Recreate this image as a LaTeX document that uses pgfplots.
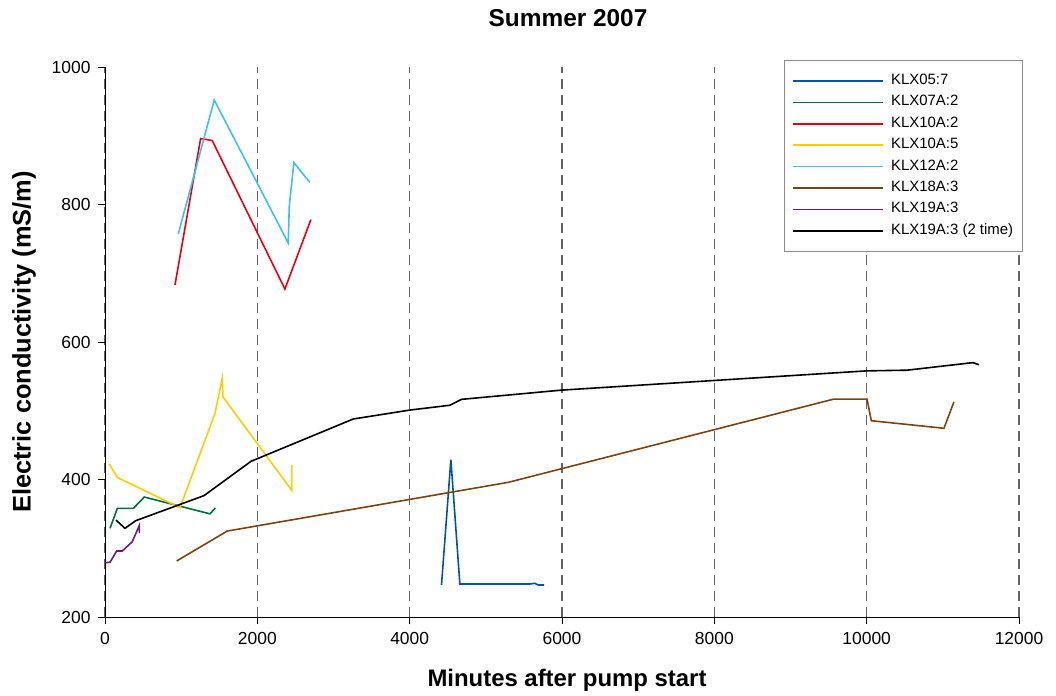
\documentclass[border=0pt]{standalone}
\usepackage{pgfplots}
\pgfplotsset{compat=1.18}
\usepackage{fontspec}
\setmainfont{Liberation Sans}
\definecolor{cBlue}{RGB}{0,84,166}
\definecolor{cGreen}{RGB}{0,110,60}
\definecolor{cRed}{RGB}{230,0,18}
\definecolor{cYellow}{RGB}{255,204,0}
\definecolor{cCyan}{RGB}{60,192,240}
\definecolor{cBrown}{RGB}{122,68,16}
\definecolor{cPurple}{RGB}{106,30,110}
\begin{document}
\begin{tikzpicture}
\begin{axis}[
  scale only axis, width=914bp, height=550bp,
  xmin=0, xmax=12000, ymin=200, ymax=1000,
  axis lines=left, axis line style={-, line width=0.9bp, black},
  xtick={0,2000,...,12000}, ytick={200,400,...,1000},
  scaled x ticks=false, scaled y ticks=false,
  minor tick num=0,
  tick align=outside, major tick length=7bp, tick style={black, line width=0.9bp},
  xmajorgrids, major grid style={dash pattern=on 10bp off 6bp, line width=1.5bp, black!62},
  ticklabel style={font=\fontsize{17.5}{21}\selectfont},
  xticklabel style={yshift=-5bp},
  yticklabel style={xshift=-4bp},
  /pgf/number format/assume math mode=true, /pgf/number format/1000 sep={},
  title={Summer 2007},
  title style={at={(axis description cs:0.5066,1.088)}, anchor=center, yshift=-5.5bp, font=\bfseries\fontsize{24.5}{28}\selectfont},
  xlabel={Minutes after pump start},
  xlabel style={at={(axis description cs:0.5055,-0.1155)}, anchor=center, font=\bfseries\fontsize{24}{28}\selectfont},
  ylabel={Electric conductivity (mS/m)},
  ylabel style={at={(axis description cs:-0.0886,0.5)}, anchor=center, font=\bfseries\fontsize{25.5}{29}\selectfont},
  legend cell align=left,
  legend image code/.code={\draw[#1] (0bp,0bp) -- (90bp,0bp);},
  legend style={at={(axis description cs:0.743,1.0127)}, anchor=north west,
    draw=black!45, line width=0.8bp, fill=white,
    font=\fontsize{15}{18}\selectfont,
    inner xsep=8bp, inner ysep=12bp, row sep=4.4bp, column sep=6bp,
    nodes={inner sep=1bp, text height=11bp, text depth=4bp}},
  every axis plot/.append style={line width=1.6bp, mark=none},
]
\coordinate (o) at (rel axis cs:0,0);
\addplot[cBlue] coordinates {(4418,246.5)(4541,429)(4659,248)(5577,248)(5643,249)(5686,246.5)(5765,246.5)};
\addlegendentry{KLX05:7}
\addplot[cGreen] coordinates {(66,329)(162,358)(372,358)(516,374.5)(1378,350)(1448,358.5)};
\addlegendentry{KLX07A:2}
\addplot[cRed] coordinates {(919,683)(1256,896)(1408,893)(2362,677)(2703,778)};
\addlegendentry{KLX10A:2}
\addplot[cYellow] coordinates {(52,423)(162,403)(984,359)(1444,496)(1539,547)(1549,520)(2454,384)(2454,421)};
\addlegendentry{KLX10A:5}
\addplot[cCyan] coordinates {(962,757)(1434,952)(2406,744)(2419,797)(2480,861)(2690,832)};
\addlegendentry{KLX12A:2}
\addplot[cBrown] coordinates {(941,281.5)(1605,325)(5300,396)(9570,517)(10005,517)(10061,485.5)(11015,474.5)(11146,513)};
\addlegendentry{KLX18A:3}
\addplot[cPurple] coordinates {(0,279)(66,279.5)(153,296)(227,296)(358,309.5)(450,333)(452,322)};
\addlegendentry{KLX19A:3}
\addplot[black] coordinates {(144,341)(262,329)(402,340)(1299,376.5)(1918,426.5)(3259,488)(4003,501)(4528,508)(4681,516.6)(5993,530)(9996,558)(10529,559)(11395,570)(11474,567)};
\addlegendentry{KLX19A:3 (2 time)}
\end{axis}
\pgfresetboundingbox
\path[use as bounding box] ([shift={(-105bp,-79bp)}]o) rectangle ++(1056bp,696bp);
\end{tikzpicture}
\end{document}
